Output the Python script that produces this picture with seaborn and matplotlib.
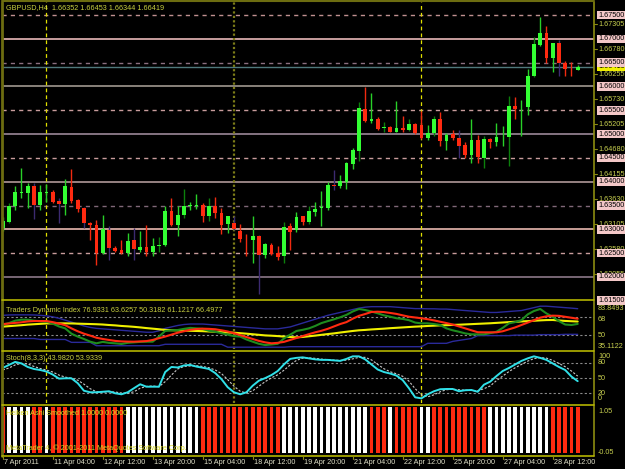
import numpy as np
import pandas as pd
import seaborn as sns
import matplotlib.pyplot as plt
from matplotlib.lines import Line2D

sns.set_style('dark', {'axes.facecolor': 'black', 'figure.facecolor': 'black'})
plt.rcParams['font.family'] = ['Liberation Sans', 'DejaVu Sans']

# GBPUSD H4 candles (open, high, low, close)
opens = [1.6302, 1.6316, 1.6350, 1.6377, 1.6377, 1.6390, 1.6351, 1.6377, 1.6378, 1.6359,
         1.6353, 1.6388, 1.6362, 1.6345, 1.6314, 1.6309, 1.6250, 1.6299, 1.6261, 1.6257,
         1.6250, 1.6278, 1.6256, 1.6262, 1.6252, 1.6265, 1.6266, 1.6338, 1.6309, 1.6330,
         1.6349, 1.6349, 1.6351, 1.6327, 1.6349, 1.6335, 1.6311, 1.6314, 1.6296, 1.6280,
         1.6278, 1.6286, 1.6246, 1.6268, 1.6250, 1.6243, 1.6306, 1.6299, 1.6327, 1.6316,
         1.6337, 1.6345, 1.6344, 1.6392, 1.6390, 1.6400, 1.6437, 1.6465, 1.6553, 1.6528,
         1.6532, 1.6513, 1.6514, 1.6504, 1.6512, 1.6509, 1.6521, 1.6519, 1.6491, 1.6502,
         1.6532, 1.6486, 1.6500, 1.6492, 1.6478, 1.6456, 1.6488, 1.6449, 1.6490, 1.6484,
         1.6493, 1.6493, 1.6560, 1.6556, 1.6556, 1.6621, 1.6687, 1.6713, 1.6660, 1.6692,
         1.6650, 1.6637, 1.66352]
highs = [1.6325, 1.6356, 1.6391, 1.6428, 1.6397, 1.6398, 1.6393, 1.6395, 1.6383, 1.6365,
         1.6405, 1.6426, 1.6363, 1.6347, 1.6316, 1.6320, 1.6330, 1.6307, 1.6265, 1.6278,
         1.6292, 1.6302, 1.6297, 1.6309, 1.6281, 1.6283, 1.6348, 1.6365, 1.6348, 1.6385,
         1.6358, 1.6374, 1.6355, 1.6366, 1.6368, 1.6344, 1.6329, 1.6327, 1.6311, 1.6290,
         1.6329, 1.6287, 1.6272, 1.6272, 1.6265, 1.6316, 1.6314, 1.6337, 1.6328, 1.6348,
         1.6358, 1.6380, 1.6400, 1.6425, 1.6414, 1.6442, 1.6470, 1.6568, 1.6598, 1.6586,
         1.6535, 1.6525, 1.6517, 1.6569, 1.6537, 1.6531, 1.6523, 1.6549, 1.6519, 1.6537,
         1.6547, 1.6502, 1.6509, 1.6509, 1.6484, 1.6532, 1.6498, 1.6496, 1.6491, 1.6523,
         1.6516, 1.6581, 1.6577, 1.6572, 1.6636, 1.6705, 1.6747, 1.6727, 1.6692, 1.6698,
         1.6653, 1.6652, 1.66453]
lows = [1.6297, 1.6313, 1.6341, 1.6365, 1.6344, 1.6322, 1.6341, 1.6357, 1.6355, 1.6313,
        1.6330, 1.6355, 1.6337, 1.6302, 1.6278, 1.6225, 1.6248, 1.6236, 1.6253, 1.6248,
        1.6244, 1.6236, 1.6253, 1.6243, 1.6243, 1.6253, 1.6264, 1.6307, 1.6286, 1.6324,
        1.6341, 1.6342, 1.6316, 1.6318, 1.6323, 1.6290, 1.6292, 1.6299, 1.6274, 1.6243,
        1.6229, 1.6164, 1.6239, 1.6246, 1.6236, 1.6229, 1.6257, 1.6294, 1.6309, 1.6311,
        1.6328, 1.6306, 1.6341, 1.6383, 1.6386, 1.6385, 1.6426, 1.6444, 1.6526, 1.6523,
        1.6509, 1.6504, 1.6504, 1.6504, 1.6505, 1.6507, 1.6500, 1.6489, 1.6488, 1.6495,
        1.6475, 1.6467, 1.6488, 1.6449, 1.6449, 1.6439, 1.6440, 1.6428, 1.6470, 1.6475,
        1.6474, 1.6432, 1.6532, 1.6497, 1.6540, 1.6619, 1.6685, 1.6650, 1.6631, 1.6622,
        1.6623, 1.6622, 1.66344]
closes = [1.6318, 1.6350, 1.6378, 1.6378, 1.6390, 1.6351, 1.6379, 1.6378, 1.6357, 1.6353,
          1.6390, 1.6360, 1.6342, 1.6313, 1.6308, 1.6250, 1.6300, 1.6260, 1.6254, 1.6250,
          1.6275, 1.6258, 1.6262, 1.6252, 1.6265, 1.6267, 1.6338, 1.6309, 1.6330, 1.6349,
          1.6351, 1.6350, 1.6327, 1.6349, 1.6334, 1.6309, 1.6327, 1.6300, 1.6279, 1.6279,
          1.6286, 1.6246, 1.6269, 1.6248, 1.6241, 1.6304, 1.6295, 1.6325, 1.6316, 1.6338,
          1.6342, 1.6346, 1.6393, 1.6391, 1.6402, 1.6439, 1.6467, 1.6554, 1.6528, 1.6531,
          1.6511, 1.6514, 1.6505, 1.6512, 1.6509, 1.6521, 1.6502, 1.6491, 1.6503, 1.6532,
          1.6486, 1.6498, 1.6491, 1.6476, 1.6456, 1.6488, 1.6451, 1.6490, 1.6483, 1.6493,
          1.6494, 1.6560, 1.6553, 1.6557, 1.6622, 1.6689, 1.6713, 1.6660, 1.6691, 1.6649,
          1.6636, 1.6636, 1.66419]

# Traders Dynamic Index lines
tdi_rsi = [60.5, 62, 64.5, 65.5, 65.5, 64.5, 64, 63.4, 61.5, 58.5, 56.5, 51, 48, 45.5, 42.7, 41,
           42.5, 41.5, 41, 40.3, 41.5, 42, 42.5, 42.7, 42.7, 48, 53.8, 54.5, 54.8, 56, 57, 56.5,
           56, 54, 53, 51.5, 50, 48.5, 48, 45, 42.7, 40.5, 39.2, 39.8, 40.5, 46, 50, 53.8, 55,
           56.5, 59, 62, 64, 65.9, 68, 70.5, 74, 76.6, 75.5, 74, 72.1, 70, 68.6, 67, 66.3, 65,
           62.5, 61.7, 61.7, 61, 60, 56.5, 54.5, 53, 51.3, 50.3, 50.3, 50.3, 51.5, 53, 57, 61.7,
           63, 65, 71, 74.5, 76.6, 72, 68.5, 64, 60.5, 60, 61.1]
tdi_signal = [60.9, 61.5, 62.2, 62.8, 63.7, 64.1, 64.1, 64.1, 63, 61.5, 59.8, 56.5, 53.5, 51, 49,
              46.8, 45.5, 44.5, 43.5, 43, 42.8, 42.7, 43, 43.3, 44.5, 46.3, 48, 50, 52, 53.5, 55,
              55.8, 56.2, 56, 55.6, 54.5, 53.3, 51.5, 49.5, 47.5, 45.5, 43.5, 42, 41, 41.5, 42.5,
              44.5, 46.5, 48.5, 50.5, 52.4, 54, 56, 58.5, 61, 63, 66.5, 69.5, 71.4, 73.5, 73.8,
              73.4, 72.5, 71.5, 70, 68.6, 67.8, 67, 66, 64.8, 63.4, 62, 60.5, 58.5, 56.5, 54.5,
              52.5, 52.4, 52.4, 52.4, 53.5, 55.5, 57.5, 60, 62.5, 65, 67.6, 69, 69.7, 69.5, 68.5,
              67.5, 66.5]
tdi_base = [58.3, 58.8, 59.3, 59.8, 60.4, 60.8, 61.2, 61.6, 61.7, 61.7, 61.7, 61.6, 61.4, 61.2,
            61, 60.8, 60.5, 60, 59.6, 59, 58.6, 58.1, 57.5, 56.8, 56.2, 55.6, 54.9, 54.6, 54.4,
            54.2, 54, 53.8, 53.6, 53.3, 53, 52.6, 52.2, 52, 51.5, 51, 50.4, 49.8, 49.2, 48.9,
            48.5, 48, 47.5, 47.2, 47.6, 48.3, 49, 49.8, 50.6, 51.3, 52.2, 53, 53.8, 54.5, 54.9,
            55.4, 55.8, 56.2, 56.7, 57.1, 57.5, 57.9, 58.3, 58.6, 59, 59.3, 59.6, 59.8, 60.1,
            60.3, 60.6, 60.9, 61.2, 61.5, 61.8, 62.2, 62.6, 63, 63.3, 63.7, 64, 64.4, 64.8, 65.1,
            65.2, 64.7, 64.2, 63.9, 63.6]
tdi_up = [70, 70.4, 70.5, 70.5, 70.5, 70.4, 70, 69.5, 68.5, 67, 65, 63, 61, 59, 57.5, 56.5, 56,
          55.5, 55, 54.5, 54, 53.5, 53, 52.5, 52.5, 54, 56.5, 58, 59.5, 60.5, 61, 61, 61, 60.5,
          60, 59.5, 59, 58.5, 58, 57.5, 57, 56.5, 56, 56, 56, 57, 58, 60, 62, 64, 66, 68, 70,
          71.5, 73, 74.5, 76, 77.5, 78.5, 79, 79, 79, 79, 78.5, 78, 77.5, 77, 77, 76.8, 76.8,
          76.5, 76.5, 76, 75.5, 75, 74.5, 74, 73.5, 73, 73, 73.5, 74, 74.5, 75, 76.5, 78, 79.5,
          79.5, 79, 78.5, 78, 77.5, 76.9]
tdi_dn = [46, 46, 46, 46, 46, 46, 45, 45, 45, 45, 45, 42, 42, 42, 42, 38.5, 38.5, 38.5, 38.5,
          38.5, 38.5, 38.5, 38.5, 38.5, 38.5, 38.5, 40, 40, 40, 40, 40, 40, 40, 40, 40, 40, 37,
          37, 37, 37, 37, 37, 37, 37, 37, 37, 37.5, 37.5, 37.5, 37.5, 37.5, 37.5, 37.5, 37.5,
          37.5, 37.5, 37.5, 37.5, 37.5, 37.5, 37.5, 37.5, 37.5, 37.5, 37.5, 37.5, 37.5, 37.5,
          41, 41, 41, 41, 43, 44, 45, 46, 49, 49, 49, 49, 49, 49, 49.5, 49.5, 49.5, 49.5, 50,
          50, 50, 50, 50.3, 50.3, 50.3]

# Stochastic(8,3,3)
stoch_main = [70, 76, 82, 79, 72, 68, 66, 63, 57, 49, 49.6, 49.6, 40, 25, 22, 22, 23, 24, 20, 18,
              22, 30, 37.8, 33, 33, 33, 62, 72, 71, 75, 76, 72.7, 70.5, 68, 60, 48, 32, 22, 18,
              22, 35, 45, 50, 56, 64, 77, 88, 90, 91, 89, 87, 86, 86, 85, 84, 88, 93, 93, 87, 77,
              67, 62, 59, 55, 46, 30, 12, 10, 18, 24, 28, 28.5, 28.5, 24, 26, 26.5, 23, 37, 43,
              54, 64, 70, 77, 84, 89, 93, 90, 86, 79, 72, 66, 53, 43.98]
stoch_signal = [66, 70, 76, 79, 78, 73, 69, 66, 62, 56, 52, 49.5, 46, 38, 29, 23, 22.5, 23, 22.5,
                20.5, 20, 23, 30, 33.5, 34.5, 33, 43, 56, 68, 73, 74, 74.5, 73, 70.5, 66, 59, 47,
                34, 24, 20.5, 25, 34, 43, 50.5, 56.5, 65.5, 76, 85, 89.5, 90, 89, 87.5, 86.5,
                85.5, 85, 85.5, 88, 91, 91, 86, 77, 68.5, 62.5, 58.5, 53.5, 44, 29, 17, 13, 17,
                23, 27, 28, 27, 26, 25.5, 25, 29, 34.5, 45, 54, 63, 70.5, 77, 83.5, 88.5, 90.5,
                89.5, 85, 79, 72.5, 64, 53.93]

# Heiken Ashi Smoothed direction (1 = up / white, 0 = down / red)
ha_up = [0, 1, 1, 1, 1, 0, 0, 1, 0, 0, 0, 0, 0, 0, 0, 0, 0, 0, 0, 0, 1, 1, 1, 1, 1, 1, 1, 1, 1,
         1, 1, 1, 0, 0, 0, 0, 0, 0, 0, 0, 0, 0, 0, 0, 0, 1, 1, 1, 1, 1, 1, 1, 1, 1, 1, 1, 1, 1,
         1, 0, 0, 0, 1, 0, 0, 0, 0, 1, 1, 0, 0, 0, 0, 0, 0, 0, 0, 0, 1, 1, 1, 1, 1, 1, 1, 1, 1,
         1, 0, 0, 0, 0, 0]

date_labels = ['7 Apr 2011', '11 Apr 04:00', '12 Apr 12:00', '13 Apr 20:00', '15 Apr 04:00',
               '18 Apr 12:00', '19 Apr 20:00', '21 Apr 04:00', '22 Apr 12:00', '25 Apr 20:00',
               '27 Apr 04:00', '28 Apr 12:00']
week_starts = [7, 37, 67]
price_levels = [1.615, 1.620, 1.625, 1.630, 1.635, 1.640, 1.645, 1.650, 1.655, 1.660, 1.665,
                1.670, 1.675]
level_colors = ['#c89c9c', '#8c7888', '#c89c9c', '#e8b8b0', '#806878', '#b09898', '#c89c9c',
                '#9c8898', '#c89c9c', '#a09890', '#8c7080', '#e8b8b8', '#c09090']
scale_ticks = [1.67305, 1.66780, 1.66255, 1.65730, 1.65205, 1.64680, 1.64155, 1.63630,
               1.63105, 1.62580, 1.62055]

W, H = 625, 469
FS = 5.2
n = len(closes)
bars = np.arange(n)
df = pd.DataFrame({'bar': bars, 'rsi': tdi_rsi, 'sig': tdi_signal, 'base': tdi_base,
                   'up': tdi_up, 'dn': tdi_dn, 'k': stoch_main, 'd': stoch_signal})

fig = plt.figure(figsize=(W / 100, H / 100), dpi=100, facecolor='black')


def panel(top, bottom, left=2, right=594):
    ax = fig.add_axes([left / W, 1 - bottom / H, (right - left) / W, (bottom - top) / H])
    ax.set_facecolor('black')
    ax.set_xlim((left - 2.7) / 6.25, (right - 2.7) / 6.25)
    ax.set_xticks([])
    ax.set_yticks([])
    ax.grid(False)
    for s in ax.spines.values():
        s.set_visible(False)
    return ax


def separators(ax):
    for j, b in enumerate(week_starts):
        if j == 1:
            ax.axvline(b, color='#7c7c18', lw=1.6, ls=(0, (1, 1)), zorder=1)
        else:
            ax.axvline(b, color='#e0e000', lw=0.9, ls=(0, (3, 2.5)), zorder=1)


def ftext(x, y, s, **kw):
    fig.text(x / W, 1 - y / H, s, va='center', ha='left', **kw)


def price_y(p):
    return 181.7 - (p - 1.640) / 0.005 * 23.8


# ---------- main price panel ----------
ax = panel(2, 298)
ax.set_ylim(1.61557, 1.67775)
for lev, col in zip(price_levels, level_colors):
    if round(lev * 1000) % 10 == 0:
        ax.axhline(lev, color=col, lw=1.2, zorder=1)
    else:
        ax.axhline(lev, color=col, lw=1.0, ls=(0, (3, 3)), zorder=1)
ax.axhline(closes[-1], color='#50787c', lw=1.0, zorder=1)
separators(ax)

o = np.array(opens)
c = np.array(closes)
bull = c >= o
body_lo = np.minimum(o, c)
body_h = np.maximum(np.abs(c - o), 0.00013)
wick_cols = []
for i in range(n):
    if i % 4 == 1:
        wick_cols.append('#0c800c' if bull[i] else '#3c2a70')
    else:
        wick_cols.append('#28d028' if bull[i] else '#f02a10')
ax.vlines(bars, lows, highs, colors=wick_cols, lw=1.0, zorder=3)
ax.bar(bars, body_h, bottom=body_lo, width=0.62,
       color=np.where(bull, '#33ff33', '#ff2a10'), lw=0, zorder=4)
ftext(6, 8, 'GBPUSD,H4  1.66352 1.66453 1.66344 1.66419', color='#c8d040', fontsize=FS)

# ---------- Traders Dynamic Index ----------
ax2 = panel(302, 349)
ax2.set_ylim(35.1122, 83.8493)
for lev in (68, 50):
    ax2.axhline(lev, color='#8a8a8a', lw=0.8, ls=(0, (2, 2)), zorder=1)
separators(ax2)
sns.lineplot(data=df, x='bar', y='up', ax=ax2, color='#2a2a9a', lw=1.0, zorder=2)
sns.lineplot(data=df, x='bar', y='dn', ax=ax2, color='#2a2a9a', lw=1.0, zorder=2)
sns.lineplot(data=df, x='bar', y='base', ax=ax2, color='#f0f000', lw=1.5, zorder=3)
sns.lineplot(data=df, x='bar', y='rsi', ax=ax2, color='#1e8c1e', lw=1.5, zorder=4)
sns.lineplot(data=df, x='bar', y='sig', ax=ax2, color='#ff2a10', lw=1.5, zorder=5)
ax2.set_xlabel('')
ax2.set_ylabel('')
ftext(6, 311, 'Traders Dynamic Index 76.9331 63.6257 50.3182 61.1217 66.4977',
      color='#c8d040', fontsize=FS)

# ---------- Stochastic ----------
ax3 = panel(352.8, 403.4)
ax3.set_ylim(0, 100)
for lev in (80, 50, 20):
    ax3.axhline(lev, color='#8a8a8a', lw=0.8, ls=(0, (2, 2)), zorder=1)
separators(ax3)
sns.lineplot(data=df, x='bar', y='d', ax=ax3, color='#c8c8c8', lw=0.8, ls=(0, (2, 1.5)),
             zorder=2)
sns.lineplot(data=df, x='bar', y='k', ax=ax3, color='#30e0e8', lw=1.4, zorder=3)
ax3.set_xlabel('')
ax3.set_ylabel('')
ftext(6, 359, 'Stoch(8,3,3) 43.9820 53.9339', color='#c8d040', fontsize=FS)

# ---------- Heiken Ashi Smoothed ----------
ax4 = panel(405, 455)
ax4.set_ylim(-0.05, 1.05)
ax4.bar(bars, np.ones(n), width=0.62, lw=0,
        color=['#ffffff' if u else '#ff2a10' for u in ha_up], zorder=2)
ftext(6, 413, 'Heiken Ashi Smoothed 1.0000 0.0000', color='#d8d820', fontsize=FS, zorder=5)
ftext(6, 448, 'MetaTrader 4, \u00a9 2001-2011 MetaQuotes Software Corp.', color='#d8d820',
      fontsize=FS, zorder=5)

# ---------- frame lines ----------
frame = '#8c8c10'
fig.add_artist(Line2D([2 / W, 2 / W], [1 - 2 / H, 1 - 456 / H], color='#6c6c10', lw=2))
fig.add_artist(Line2D([594 / W, 594 / W], [1 - 2 / H, 1 - 456 / H], color=frame, lw=1.2))
fig.add_artist(Line2D([2 / W, 594 / W], [1 - 1.5 / H, 1 - 1.5 / H], color='#6c6c10', lw=1.5))
for yy in (300, 350.5, 404.5, 456):
    fig.add_artist(Line2D([2 / W, 594 / W], [1 - yy / H, 1 - yy / H], color='#b4b400', lw=1.2))

# ---------- right price scale ----------
for t in scale_ticks:
    yy = price_y(t)
    ftext(598, yy, f'{t:.5f}', color='#c8d050', fontsize=FS)
    fig.add_artist(Line2D([594 / W, 597 / W], [1 - yy / H, 1 - yy / H], color=frame, lw=0.8))
ftext(598, price_y(closes[-1]), f'{closes[-1]:.5f}', color='black', fontsize=FS,
      bbox=dict(boxstyle='square,pad=0.12', fc='#f0f000', ec='none'))
for lev in price_levels:
    ftext(598, price_y(lev), f'{lev:.5f}', color='black', fontsize=FS,
          bbox=dict(boxstyle='square,pad=0.12', fc='#f4c8c8', ec='none'))

for lab, yy in [('83.8493', 309), ('68', 319), ('50', 335), ('35.1122', 346),
                ('100', 357), ('80', 362.5), ('50', 378), ('20', 393), ('0', 398),
                ('1.05', 411), ('-0.05', 452)]:
    ftext(598, yy, lab, color='#c8d050', fontsize=FS)

# ---------- time axis ----------
for k, lab in enumerate(date_labels):
    xx = 2.7 + 6.25 * 8 * k
    fig.add_artist(Line2D([xx / W, xx / W], [1 - 456 / H, 1 - 459 / H], color=frame, lw=0.8))
    ftext(xx + 1, 462.5, lab, color='#e0e0c8', fontsize=FS)

fig.savefig('out.png', dpi=100, facecolor='black')
